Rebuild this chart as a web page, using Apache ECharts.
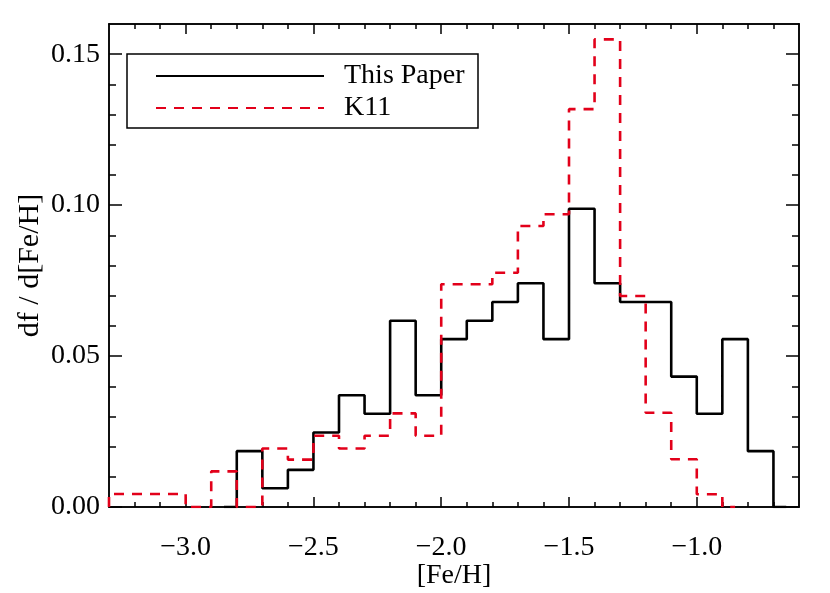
<!DOCTYPE html>
<html>
<head>
<meta charset="utf-8">
<script src="https://cdn.jsdelivr.net/npm/echarts@6/dist/echarts.min.js"></script>
<style>
html,body{margin:0;padding:0;background:#fff;}
#chart{width:830px;height:593px;}
</style>
</head>
<body>
<div id="chart"></div>
<script>
// ---- data ----
const binWidth = 0.1;
// "This Paper" histogram (left bin edges and heights)
const blackEdges = [-2.8,-2.7,-2.6,-2.5,-2.4,-2.3,-2.2,-2.1,-2.0,-1.9,-1.8,-1.7,-1.6,-1.5,-1.4,-1.3,-1.2,-1.1,-1.0,-0.9,-0.8];
const blackValues = [0.0185,0.0062,0.0123,0.0247,0.0370,0.0309,0.0617,0.0370,0.0556,0.0617,0.0679,0.0741,0.0556,0.0988,0.0741,0.0679,0.0679,0.0432,0.0309,0.0556,0.0185];
const blackLead = -2.85, blackTail = -0.65;
// K11 histogram
const redEdges = [-3.3,-3.2,-3.1,-3.0,-2.9,-2.8,-2.7,-2.6,-2.5,-2.4,-2.3,-2.2,-2.1,-2.0,-1.9,-1.8,-1.7,-1.6,-1.5,-1.4,-1.3,-1.2,-1.1,-1.0];
const redValues = [0.0043,0.0043,0.0043,0,0.0118,0,0.0194,0.0157,0.0236,0.0194,0.0236,0.0310,0.0236,0.0738,0.0738,0.0776,0.0931,0.0970,0.1318,0.1549,0.0699,0.0312,0.0158,0.0042];
const redLead = -3.3, redTail = -0.85;
// axes
const xRange = [-3.3, -0.6];
const yRange = [0, 0.16];
const xMajorTicks = [-3.0,-2.5,-2.0,-1.5,-1.0];
const xMinorTicks = [-3.2,-3.1,-2.9,-2.8,-2.7,-2.6,-2.4,-2.3,-2.2,-2.1,-1.9,-1.8,-1.7,-1.6,-1.4,-1.3,-1.2,-1.1,-0.9,-0.8,-0.7];
const yMajorTicks = [0, 0.05, 0.10, 0.15];
const yMinorTicks = [0.01,0.02,0.03,0.04,0.06,0.07,0.08,0.09,0.11,0.12,0.13,0.14];
const seriesNames = ['This Paper', 'K11'];

function stepPoints(edges, values, lead, tail) {
  const pts = [[lead, 0], [edges[0], 0]];
  for (let i = 0; i < edges.length; i++) {
    const l = edges[i], r = +(edges[i] + binWidth).toFixed(3);
    pts.push([l, values[i]], [r, values[i]]);
  }
  const last = +(edges[edges.length - 1] + binWidth).toFixed(3);
  pts.push([last, 0], [tail, 0]);
  return pts;
}

const FONT = "'Liberation Serif', 'DejaVu Serif', serif";
const lineCol = '#000';
const redCol = '#e2001a';

function xAx(pos, ticks, len, labels) {
  return {
    type: 'value', position: pos, min: xRange[0], max: xRange[1],
    splitLine: { show: false },
    axisLine: { show: true, onZero: false, lineStyle: { color: lineCol, width: 1.5 } },
    axisTick: { show: true, inside: true, length: len, customValues: ticks, lineStyle: { color: lineCol, width: 1.5 } },
    axisLabel: labels ? {
      show: true, customValues: ticks, margin: 27, color: '#000', fontFamily: FONT, fontSize: 28,
      formatter: v => (v < 0 ? '\u2212' : '') + Math.abs(v).toFixed(1)
    } : { show: false }
  };
}
function yAx(pos, ticks, len, labels) {
  return {
    type: 'value', position: pos, min: yRange[0], max: yRange[1],
    splitLine: { show: false },
    axisLine: { show: true, onZero: false, lineStyle: { color: lineCol, width: 1.5 } },
    axisTick: { show: true, inside: true, length: len, customValues: ticks, lineStyle: { color: lineCol, width: 1.5 } },
    axisLabel: labels ? {
      show: true, customValues: ticks, margin: 9, color: '#000', fontFamily: FONT, fontSize: 28,
      formatter: v => v.toFixed(2)
    } : { show: false }
  };
}

const xAxes = [
  Object.assign(xAx('bottom', xMajorTicks, 10, true), {
    name: '[Fe/H]', nameLocation: 'middle', nameGap: 55, nameMoveOverlap: false,
    nameTextStyle: { color: '#000', fontFamily: FONT, fontSize: 28 }
  }),
  xAx('bottom', xMinorTicks, 5, false),
  xAx('top', xMajorTicks, 10, false),
  xAx('top', xMinorTicks, 5, false)
];
const yAxes = [
  Object.assign(yAx('left', yMajorTicks, 13, true), {
    name: 'df / d[Fe/H]', nameLocation: 'middle', nameGap: 64, nameRotate: 90, nameMoveOverlap: false,
    nameTextStyle: { color: '#000', fontFamily: FONT, fontSize: 30 }
  }),
  yAx('left', yMinorTicks, 7, false),
  yAx('right', yMajorTicks, 13, false),
  yAx('right', yMinorTicks, 7, false)
];

const chart = echarts.init(document.getElementById('chart'), null, { renderer: 'canvas' });
chart.setOption({
  animation: false,
  backgroundColor: '#fff',
  grid: { left: 109, right: 31, top: 24, bottom: 86, containLabel: false, outerBoundsMode: 'none' },
  xAxis: xAxes,
  yAxis: yAxes,
  legend: {
    orient: 'vertical', left: 155, top: 60, padding: 0, itemGap: 0,
    itemWidth: 168, itemHeight: 32,
    itemStyle: { opacity: 0, borderWidth: 0 },
    textStyle: { color: '#000', fontFamily: FONT, fontSize: 28, lineHeight: 32, padding: [0, 0, 0, 15] },
    data: seriesNames
  },
  graphic: [{
    type: 'rect', z: 5, silent: true,
    shape: { x: 127, y: 54, width: 351, height: 74 },
    style: { fill: 'none', stroke: '#000', lineWidth: 1.5 }
  }],
  series: [
    {
      name: seriesNames[0], type: 'line', xAxisIndex: 0, yAxisIndex: 0,
      data: stepPoints(blackEdges, blackValues, blackLead, blackTail),
      symbol: 'none', clip: true, z: 3,
      lineStyle: { color: '#000', width: 2.6 },
      itemStyle: { color: '#000' }
    },
    {
      name: seriesNames[1], type: 'line', xAxisIndex: 0, yAxisIndex: 0,
      data: stepPoints(redEdges, redValues, redLead, redTail),
      symbol: 'none', clip: true, z: 4,
      lineStyle: { color: redCol, width: 2.6, type: [10, 8] },
      itemStyle: { color: redCol }
    }
  ]
});
</script>
</body>
</html>
